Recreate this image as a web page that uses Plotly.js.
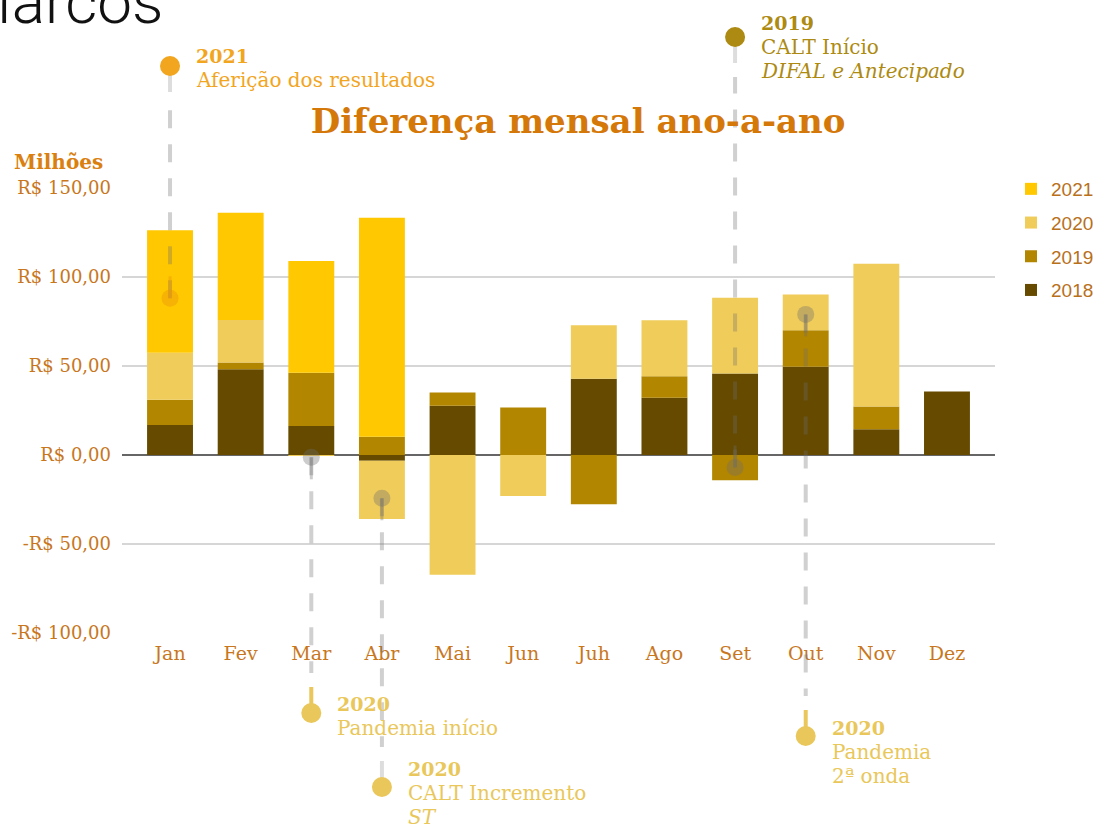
<!DOCTYPE html>
<html>
<head>
<meta charset="utf-8">
<script src="https://cdn.plot.ly/plotly-3.0.1.min.js"></script>
<style>html,body{margin:0;padding:0;background:#fff;}#chart{width:1099px;height:833px;}</style>
</head>
<body>
<div id="chart"></div>
<script>
// ---- data ----
const months = ['Jan','Fev','Mar','Abr','Mai','Jun','Juh','Ago','Set','Out','Nov','Dez'];
const series = ['2018','2019','2020','2021'];
const v2018 = [16.8, 48.2, 16.3, -3.2, 27.7, null, 42.8, 32.2, 45.8, 49.6, 14.4, 35.7];
const v2019 = [14.2, 3.8, 29.9, 10.3, 7.4, 26.7, -27.7, 12.1, -14.2, 20.5, 12.9, null];
const v2020 = [26.4, 23.9, -0.6, -32.7, -67.3, -23.0, 30.1, 31.4, 42.5, 20.0, 80.2, null];
const v2021 = [68.8, 60.2, 62.8, 123.0, null, null, null, null, null, null, null, null];
const yTickVals = [-100, -50, 0, 50, 100, 150];
const yTickText = ['-R$ 100,00','-R$ 50,00','R$ 0,00','R$ 50,00','R$ 100,00','R$ 150,00'];

// timeline milestones (month, value of inner dot)
const evMonth = [0, 8, 2, 3, 9];
const evDot = [88, -7, -1.3, -24.3, 79];
const evYear = ['2021','2019','2020','2020','2020'];
const evLines = [
  ['Aferição dos resultados'],
  ['CALT Início','<i>DIFAL e Antecipado</i>'],
  ['Pandemia início'],
  ['CALT Incremento','<i>ST</i>'],
  ['Pandemia','2ª onda']
];

// ---- styling ----
const colors = ['#654a00','#b38600','#f0cc5a','#ffc800'];
const evColor = ['#f2a51e','#ad8a12','#e9c75a','#e9c75a','#e9c75a'];
const evCircleY = [66, 37, 713, 787, 736];   // pixel y of outer circle
const evLabelTop = [56, 23, 704, 769, 728];  // pixel y of first label line
const dotColor = ['rgba(235,150,10,0.45)','rgba(110,110,110,0.35)','rgba(110,110,110,0.35)','rgba(110,110,110,0.35)','rgba(110,110,110,0.35)'];
const stemColor = ['#dddddd','#dddddd','#e9c75a','#dddddd','#e9c75a'];

const W = 1099, H = 833;
const M = {l:122, r:104, t:188, b:200};
const xRange = [-0.68, 11.68];
const yRange = [-100, 150];
const pw = W - M.l - M.r, ph = H - M.t - M.b;
const serif = 'DejaVu Serif, serif';
const tickCol = '#c8771e';

function paperX(i){ return (i - xRange[0])/(xRange[1]-xRange[0]); }
function paperYv(v){ return (v - yRange[0])/(yRange[1]-yRange[0]); }
function pxX(px){ return (px - M.l)/pw; }
function pxY(py){ return (H - M.b - py)/ph; }

const vals = [v2018, v2019, v2020, v2021];
const traces = series.map((s, k) => ({
  type: 'bar', name: s, x: months, y: vals[k],
  marker: {color: colors[k], line: {width: 0}},
  width: 0.65, legendgroup: s, legendrank: 10 - k, hoverinfo: 'x+y+name'
}));

const shapes = [];
const annotations = [];

// timeline
evMonth.forEach((m, i) => {
  const xp = paperX(m);
  const dotY = paperYv(evDot[i]);
  const circY = pxY(evCircleY[i]);
  const above = evCircleY[i] < M.t;
  const stemEnd = above ? pxY(evCircleY[i] + 26) : pxY(evCircleY[i] - 26);
  const dashEnd = above ? pxY(evCircleY[i] + 40) : pxY(evCircleY[i] - 40);
  shapes.push({type:'line', xref:'paper', yref:'paper', x0:xp, x1:xp, y0:dotY, y1:dashEnd,
    line:{color:'rgba(110,110,110,0.32)', width:4, dash:'18px,16px'}, layer:'above'});
  shapes.push({type:'line', xref:'paper', yref:'paper', x0:xp, x1:xp, y0:circY, y1:stemEnd,
    line:{color:stemColor[i], width:4}, layer:'above'});
  shapes.push({type:'line', xref:'paper', yref:'paper', x0:xp, x1:xp, y0:dotY, y1:dotY + (above ? 22/ph : -22/ph),
    line:{color:dotColor[i], width:3}, layer:'above'});
  const r = 8.5;
  shapes.push({type:'circle', xref:'paper', yref:'paper', xsizemode:'pixel', ysizemode:'pixel',
    xanchor:xp, yanchor:dotY, x0:-r, x1:r, y0:-r, y1:r,
    fillcolor:dotColor[i], line:{width:0}, layer:'above'});
  const R = 10;
  shapes.push({type:'circle', xref:'paper', yref:'paper', xsizemode:'pixel', ysizemode:'pixel',
    xanchor:xp, yanchor:circY, x0:-R, x1:R, y0:-R, y1:R,
    fillcolor:evColor[i], line:{width:0}, layer:'above'});
  const labX = xp + 24/pw;
  annotations.push({xref:'paper', yref:'paper', x:labX, y:pxY(evLabelTop[i]), xanchor:'left', yanchor:'middle',
    text:'<b>'+evYear[i]+'</b>', showarrow:false, font:{family:serif, size:19, color:evColor[i]}});
  evLines[i].forEach((t, j) => {
    annotations.push({xref:'paper', yref:'paper', x:labX, y:pxY(evLabelTop[i] + 24*(j+1)), xanchor:'left', yanchor:'middle',
      text:t, showarrow:false, font:{family:serif, size:20, color:evColor[i]}});
  });
});

// "Marcos" heading (cropped at page edge, as in the source)
annotations.push({xref:'paper', yref:'paper', x:pxX(-44), y:pxY(40), xanchor:'left', yanchor:'bottom',
  text:'Marcos', showarrow:false, font:{family:'Roboto', size:62, color:'#111', weight:300}});
// axis unit label
annotations.push({xref:'paper', yref:'paper', x:pxX(12), y:pxY(162), xanchor:'left', yanchor:'middle',
  text:'<b>Milhões</b>', showarrow:false, font:{family:serif, size:20, color:'#d98010'}});

const layout = {
  width: W, height: H,
  margin: M,
  paper_bgcolor: '#ffffff', plot_bgcolor: '#ffffff',
  barmode: 'relative', bargap: 0.35,
  title: {text:'<b>Diferença mensal ano-a-ano</b>', font:{family:serif, size:34, color:'#d5780a'},
    xref:'container', yref:'container', x:0.526, y:1 - 121/H, xanchor:'center', yanchor:'middle'},
  xaxis: {type:'category', range:xRange, showgrid:false, zeroline:false, showline:false, ticks:'',
    tickfont:{family:serif, size:19, color:tickCol}, ticklabelstandoff:7, fixedrange:true},
  yaxis: {range:yRange, tickvals:yTickVals, ticktext:yTickText, showgrid:true, gridcolor:'#d6d6d6', gridwidth:1.2,
    zeroline:true, zerolinecolor:'#666666', zerolinewidth:1.5, showline:false, ticks:'',
    tickfont:{family:serif, size:18, color:tickCol}, ticklabelstandoff:10, fixedrange:true},
  legend: {xref:'container', yref:'container', x:1, y:1 - 170/H, xanchor:'right', yanchor:'top',
    traceorder:'grouped', tracegroupgap:6,
    font:{family:'Liberation Sans, Arial, sans-serif', size:19, color:'#b8701a'}, bgcolor:'rgba(0,0,0,0)'},
  shapes: shapes,
  annotations: annotations,
  showlegend: true
};

Plotly.newPlot('chart', traces, layout, {displayModeBar:false, staticPlot:true});
</script>
</body>
</html>
